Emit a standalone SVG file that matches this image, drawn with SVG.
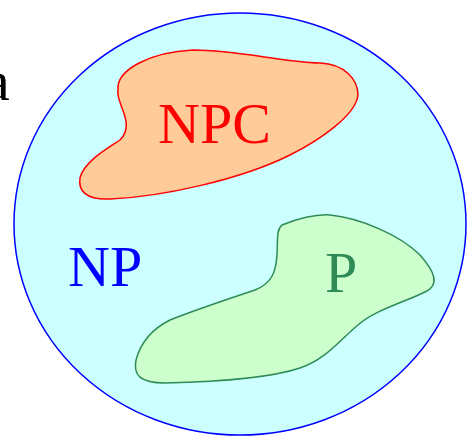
<svg xmlns="http://www.w3.org/2000/svg" width="467" height="436" viewBox="0 0 467 436">
<style>
.lbl{font-family:"Liberation Serif","Times New Roman",serif;font-size:58px}
</style>
<rect width="467" height="436" fill="#ffffff"/>
<text class="lbl" x="-16" y="100" fill="#000000">a</text>
<g id="NP">
<ellipse cx="240" cy="224" rx="226" ry="211" fill="#ccffff" stroke="#0000ff" stroke-width="1.5"/>
<text class="lbl" x="68" y="286" fill="#0000ff">NP</text>
</g>
<g id="NPC">
<path d="M118,90 C116,70 150,52 193,50 C240,50 280,62 320,63 C345,64 358,80 358,95 C356,115 320,140 290,155 C240,180 160,197 110,199 C85,200 78,190 80,178 C84,162 105,150 120,140 C130,130 126,118 122,108 C119,100 117,95 118,90 Z" fill="#ffcc99" stroke="#ff0000" stroke-width="1.5"/>
<text class="lbl" x="158" y="143" fill="#ff0000">NPC</text>
</g>
<g id="P">
<path d="M282,225 C300,218 315,214 330,215 C360,218 400,235 420,255 C435,272 440,285 425,292 C405,302 375,310 358,325 C340,340 325,360 300,368 C270,378 210,382 165,383 C140,383 133,375 136,360 C140,345 150,330 170,320 C195,310 225,300 255,290 C272,283 276,272 277,255 C278,240 276,230 282,225 Z" fill="#ccffcc" stroke="#2e8b57" stroke-width="1.5"/>
<text class="lbl" x="325" y="292" fill="#2e8b57">P</text>
</g>
<g id="connectors"/>
</svg>
